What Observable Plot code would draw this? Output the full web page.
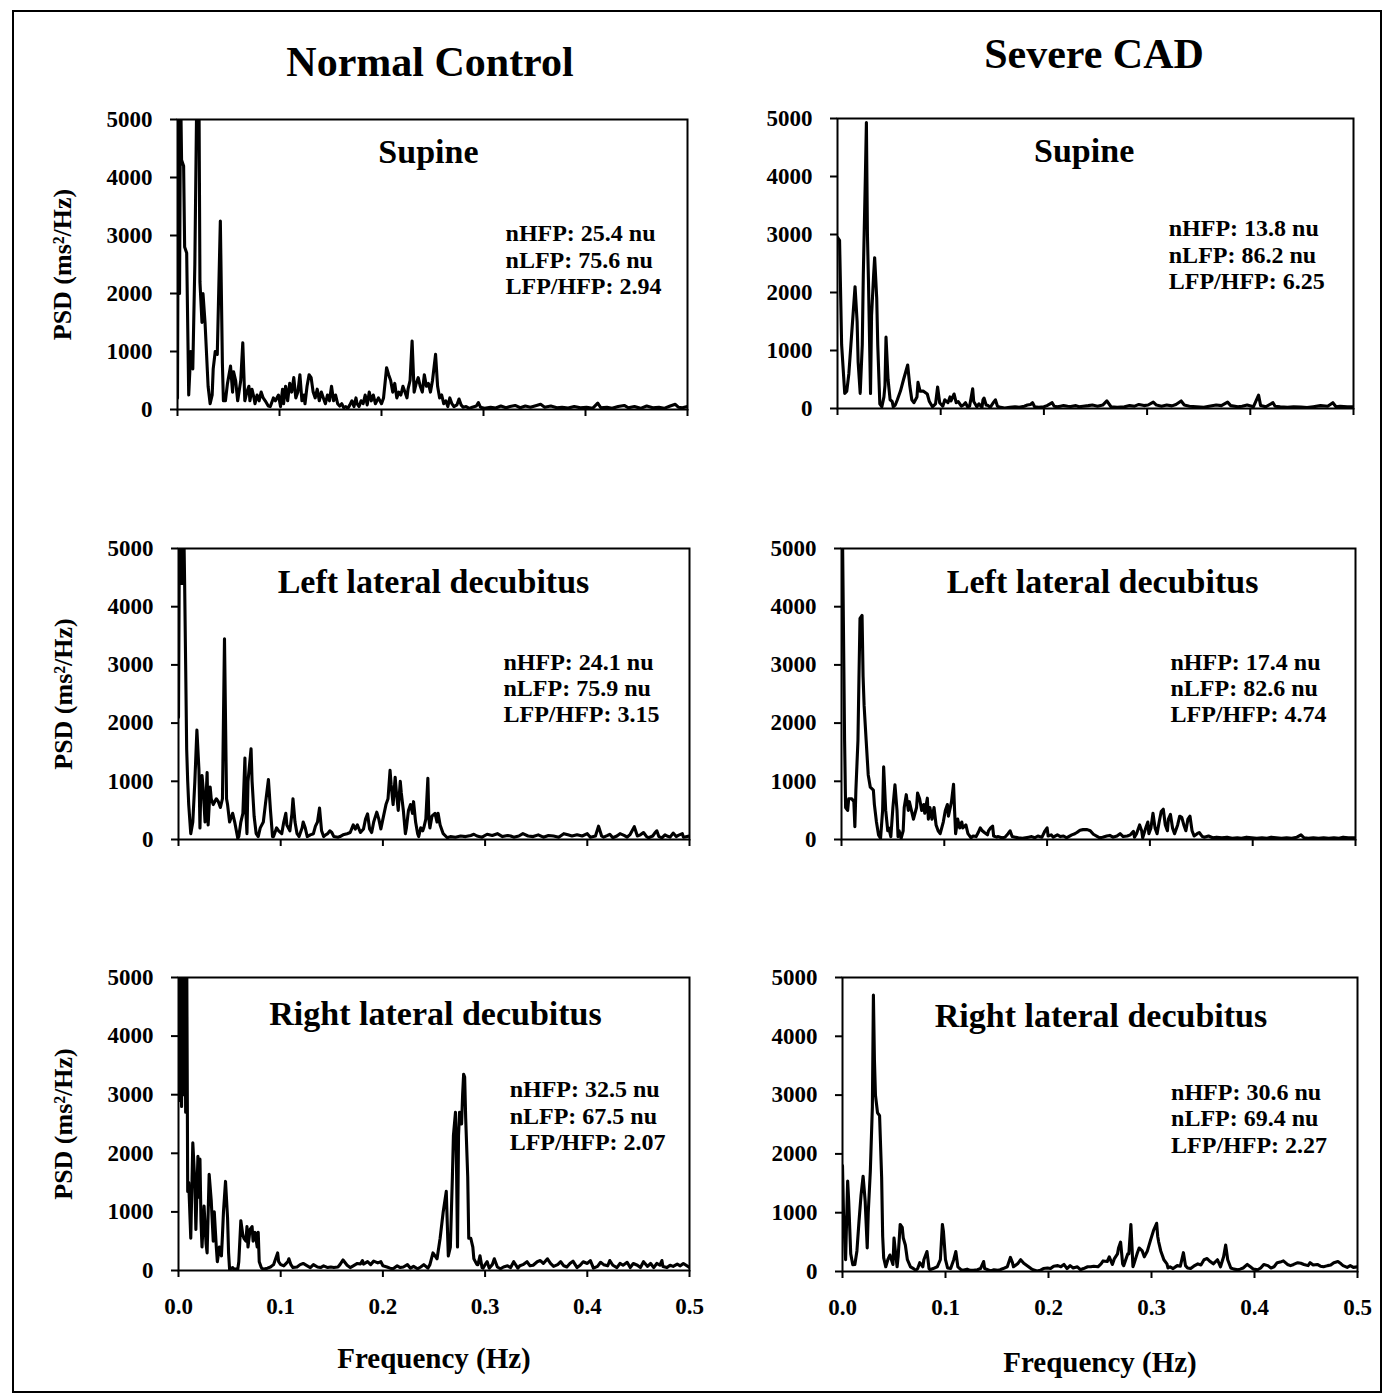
<!DOCTYPE html>
<html><head><meta charset="utf-8">
<script src="https://cdn.jsdelivr.net/npm/d3@7"></script>
<script src="https://cdn.jsdelivr.net/npm/@observablehq/plot@0.6"></script>
<style>
html,body{margin:0;padding:0;background:#fff;}
#fig{position:relative;width:1389px;height:1395px;background:#fff;font-family:"Liberation Serif","Times New Roman",serif;font-weight:bold;color:#000;overflow:hidden;}
#border{position:absolute;left:12px;top:10px;width:1370px;height:1383px;border:2px solid #000;box-sizing:border-box;}
.coltitle{position:absolute;font-size:42px;line-height:42px;transform:translateX(-50%);white-space:nowrap;}
</style></head><body><div id="fig"><div id="border"></div></div>
<script>
// ---- data: [frequency (Hz), PSD (ms^2/Hz)] ----
const normalSupine = [[0,200],[0.001,5600],[0.002,2000],[0.003,5600],[0.004,4300],[0.006,4200],[0.007,2800],[0.009,2700],[0.011,250],[0.013,1000],[0.015,700],[0.017,2500],[0.019,5600],[0.021,5600],[0.022,2200],[0.024,1500],[0.025,2000],[0.027,1500],[0.030,400],[0.032,100],[0.034,250],[0.035,700],[0.037,1000],[0.039,950],[0.042,3250],[0.044,800],[0.045,150],[0.047,150],[0.049,450],[0.052,750],[0.054,300],[0.055,650],[0.057,500],[0.059,150],[0.062,500],[0.064,1150],[0.066,150],[0.068,300],[0.070,400],[0.071,150],[0.073,350],[0.075,200],[0.076,100],[0.078,250],[0.080,150],[0.082,300],[0.084,200],[0.086,150],[0.089,60],[0.091,50],[0.094,200],[0.096,150],[0.099,250],[0.101,50],[0.103,350],[0.104,100],[0.106,400],[0.108,150],[0.110,450],[0.112,300],[0.114,550],[0.116,200],[0.118,300],[0.120,600],[0.122,150],[0.124,250],[0.125,100],[0.127,400],[0.129,600],[0.131,550],[0.133,300],[0.135,200],[0.137,350],[0.139,150],[0.141,300],[0.143,200],[0.145,100],[0.147,250],[0.149,150],[0.151,400],[0.153,150],[0.155,250],[0.157,100],[0.159,60],[0.161,100],[0.163,30],[0.165,50],[0.167,20],[0.169,80],[0.171,150],[0.173,50],[0.175,200],[0.176,100],[0.178,50],[0.180,150],[0.182,100],[0.184,250],[0.186,80],[0.188,300],[0.190,150],[0.192,250],[0.194,100],[0.197,200],[0.200,100],[0.202,200],[0.205,720],[0.207,600],[0.209,500],[0.211,300],[0.213,450],[0.215,200],[0.217,300],[0.219,250],[0.221,400],[0.223,300],[0.225,200],[0.226,350],[0.228,500],[0.230,1180],[0.232,300],[0.234,450],[0.236,550],[0.238,400],[0.240,300],[0.242,600],[0.244,400],[0.246,450],[0.248,300],[0.250,500],[0.253,950],[0.255,400],[0.257,200],[0.259,250],[0.261,100],[0.263,150],[0.265,50],[0.267,200],[0.269,100],[0.271,50],[0.274,80],[0.276,180],[0.278,80],[0.280,40],[0.283,50],[0.286,20],[0.289,40],[0.293,60],[0.295,120],[0.297,40],[0.301,20],[0.307,40],[0.312,25],[0.317,60],[0.322,30],[0.326,50],[0.331,70],[0.336,30],[0.341,60],[0.346,40],[0.352,70],[0.356,90],[0.360,40],[0.366,60],[0.372,30],[0.377,40],[0.383,25],[0.389,50],[0.395,30],[0.401,40],[0.407,20],[0.412,110],[0.415,30],[0.421,40],[0.426,20],[0.432,50],[0.438,70],[0.442,30],[0.448,50],[0.454,20],[0.460,60],[0.466,30],[0.472,40],[0.477,20],[0.483,60],[0.488,90],[0.491,40],[0.495,30],[0.500,50]];

const cadSupine = [[0,2950],[0.002,2900],[0.004,1100],[0.007,260],[0.009,300],[0.011,600],[0.013,1100],[0.017,2100],[0.019,1500],[0.020,800],[0.022,260],[0.024,1100],[0.025,2300],[0.027,4000],[0.028,4930],[0.029,3000],[0.030,2200],[0.032,260],[0.033,1600],[0.035,2300],[0.036,2600],[0.038,1900],[0.039,1100],[0.041,80],[0.043,30],[0.045,200],[0.046,400],[0.047,1230],[0.049,500],[0.051,150],[0.053,120],[0.054,30],[0.056,60],[0.058,150],[0.061,300],[0.064,500],[0.068,750],[0.070,400],[0.072,150],[0.074,100],[0.077,200],[0.078,450],[0.080,300],[0.083,300],[0.087,250],[0.089,120],[0.092,30],[0.095,80],[0.097,370],[0.099,100],[0.102,40],[0.104,150],[0.107,100],[0.109,200],[0.110,130],[0.113,250],[0.115,100],[0.117,120],[0.120,40],[0.122,60],[0.124,100],[0.126,30],[0.128,40],[0.131,340],[0.132,120],[0.135,30],[0.137,80],[0.140,20],[0.141,150],[0.142,180],[0.144,60],[0.146,50],[0.148,20],[0.151,100],[0.153,150],[0.155,40],[0.158,20],[0.162,10],[0.167,20],[0.172,30],[0.176,20],[0.181,40],[0.184,60],[0.187,70],[0.189,100],[0.191,30],[0.195,20],[0.200,30],[0.203,50],[0.206,80],[0.208,100],[0.210,40],[0.213,30],[0.216,40],[0.219,50],[0.223,40],[0.226,35],[0.231,50],[0.234,30],[0.238,40],[0.243,50],[0.247,60],[0.252,40],[0.257,60],[0.261,130],[0.265,30],[0.271,20],[0.278,30],[0.283,50],[0.288,40],[0.292,70],[0.297,50],[0.301,60],[0.306,110],[0.309,60],[0.314,40],[0.319,60],[0.324,45],[0.328,70],[0.333,130],[0.336,60],[0.341,40],[0.348,30],[0.355,20],[0.360,40],[0.367,60],[0.372,50],[0.378,110],[0.381,50],[0.388,30],[0.392,40],[0.397,60],[0.403,30],[0.408,230],[0.410,50],[0.415,30],[0.422,100],[0.424,40],[0.429,30],[0.436,20],[0.442,30],[0.449,25],[0.455,15],[0.461,30],[0.468,50],[0.475,40],[0.480,100],[0.483,30],[0.487,40],[0.494,30],[0.500,30]];

const normalLeft = [[0,2100],[0.001,5600],[0.002,4400],[0.003,5600],[0.004,4400],[0.005,5600],[0.006,4400],[0.007,3000],[0.008,1550],[0.009,1000],[0.010,600],[0.012,100],[0.014,300],[0.016,1000],[0.018,1880],[0.020,1200],[0.021,200],[0.022,1000],[0.023,1100],[0.024,900],[0.026,300],[0.028,1150],[0.029,250],[0.031,900],[0.032,700],[0.034,600],[0.037,700],[0.039,650],[0.041,550],[0.043,700],[0.045,3450],[0.047,700],[0.048,600],[0.050,300],[0.053,450],[0.055,300],[0.058,20],[0.059,50],[0.061,300],[0.063,450],[0.065,1400],[0.066,450],[0.067,100],[0.068,1000],[0.071,1560],[0.072,1000],[0.074,400],[0.076,100],[0.078,50],[0.080,200],[0.083,300],[0.085,600],[0.088,1030],[0.090,500],[0.092,50],[0.093,50],[0.096,200],[0.098,150],[0.101,100],[0.103,300],[0.105,450],[0.106,250],[0.109,150],[0.111,450],[0.112,700],[0.114,300],[0.116,100],[0.118,50],[0.121,200],[0.122,300],[0.124,200],[0.126,50],[0.129,80],[0.132,100],[0.134,230],[0.136,300],[0.138,540],[0.140,150],[0.142,50],[0.144,80],[0.146,100],[0.148,150],[0.150,120],[0.152,50],[0.156,40],[0.158,50],[0.161,80],[0.165,100],[0.168,120],[0.171,250],[0.173,180],[0.175,250],[0.178,120],[0.181,180],[0.183,350],[0.185,440],[0.187,180],[0.189,120],[0.191,300],[0.194,470],[0.196,350],[0.198,180],[0.200,350],[0.203,600],[0.205,700],[0.207,1190],[0.208,950],[0.210,600],[0.212,1070],[0.213,850],[0.215,500],[0.217,1000],[0.218,800],[0.220,500],[0.222,100],[0.223,200],[0.225,500],[0.227,600],[0.229,450],[0.230,650],[0.232,300],[0.234,100],[0.235,50],[0.237,200],[0.239,150],[0.240,200],[0.242,350],[0.244,1050],[0.245,350],[0.246,200],[0.248,400],[0.251,450],[0.253,300],[0.254,450],[0.256,250],[0.259,100],[0.263,30],[0.266,50],[0.271,40],[0.276,60],[0.281,50],[0.286,70],[0.289,90],[0.292,60],[0.297,40],[0.302,90],[0.307,70],[0.312,100],[0.317,50],[0.322,70],[0.325,60],[0.328,40],[0.333,60],[0.337,100],[0.342,60],[0.347,50],[0.352,80],[0.357,40],[0.362,70],[0.367,60],[0.372,40],[0.377,100],[0.381,80],[0.385,60],[0.390,80],[0.395,60],[0.400,100],[0.403,40],[0.408,60],[0.411,230],[0.414,60],[0.416,40],[0.420,70],[0.422,90],[0.425,30],[0.429,60],[0.432,100],[0.436,70],[0.439,40],[0.442,90],[0.446,220],[0.449,60],[0.452,80],[0.455,120],[0.458,50],[0.460,30],[0.464,60],[0.466,110],[0.468,150],[0.470,50],[0.473,30],[0.476,80],[0.478,60],[0.481,40],[0.484,110],[0.487,50],[0.489,70],[0.493,100],[0.494,40],[0.500,60]];

const cadLeft = [[0,5600],[0.001,5200],[0.003,1700],[0.004,550],[0.006,500],[0.007,700],[0.010,700],[0.012,650],[0.013,220],[0.014,850],[0.016,1700],[0.017,2800],[0.018,3800],[0.020,3850],[0.021,2800],[0.022,2300],[0.024,1700],[0.026,1110],[0.028,900],[0.031,850],[0.032,600],[0.034,300],[0.036,80],[0.038,20],[0.040,500],[0.041,1250],[0.043,500],[0.045,150],[0.046,200],[0.048,50],[0.050,550],[0.052,940],[0.054,500],[0.055,50],[0.056,150],[0.058,20],[0.060,150],[0.061,550],[0.063,770],[0.065,500],[0.066,650],[0.068,500],[0.070,350],[0.073,550],[0.074,800],[0.076,700],[0.078,500],[0.080,600],[0.081,450],[0.0835,710],[0.0845,350],[0.086,550],[0.088,350],[0.090,550],[0.092,250],[0.094,150],[0.096,100],[0.099,300],[0.101,500],[0.103,600],[0.104,400],[0.107,650],[0.109,950],[0.110,500],[0.111,100],[0.113,350],[0.115,200],[0.117,300],[0.118,200],[0.121,250],[0.123,100],[0.126,30],[0.128,60],[0.131,50],[0.133,120],[0.135,200],[0.137,150],[0.139,120],[0.142,80],[0.143,150],[0.145,200],[0.147,230],[0.148,60],[0.151,40],[0.152,50],[0.156,30],[0.159,40],[0.162,100],[0.164,150],[0.166,50],[0.169,40],[0.172,30],[0.176,20],[0.179,30],[0.182,40],[0.185,50],[0.188,30],[0.191,60],[0.195,40],[0.198,150],[0.200,200],[0.201,60],[0.204,80],[0.206,40],[0.210,80],[0.213,50],[0.216,60],[0.219,30],[0.221,50],[0.224,80],[0.227,100],[0.229,120],[0.232,160],[0.235,170],[0.239,170],[0.242,150],[0.245,90],[0.249,50],[0.251,30],[0.254,40],[0.258,60],[0.261,70],[0.264,40],[0.268,60],[0.271,100],[0.274,50],[0.278,60],[0.281,80],[0.284,140],[0.285,40],[0.287,100],[0.290,250],[0.292,150],[0.293,30],[0.296,200],[0.298,300],[0.299,100],[0.301,200],[0.303,450],[0.305,200],[0.307,100],[0.309,300],[0.311,480],[0.313,520],[0.315,250],[0.317,150],[0.318,350],[0.320,430],[0.322,200],[0.324,100],[0.327,250],[0.329,400],[0.331,380],[0.333,250],[0.335,150],[0.337,350],[0.339,400],[0.341,150],[0.343,60],[0.346,100],[0.348,120],[0.351,50],[0.353,40],[0.357,60],[0.361,30],[0.365,40],[0.370,30],[0.375,40],[0.380,20],[0.385,30],[0.389,20],[0.394,40],[0.399,30],[0.404,20],[0.409,30],[0.414,20],[0.418,40],[0.423,30],[0.428,20],[0.433,30],[0.438,20],[0.443,40],[0.447,80],[0.450,30],[0.454,20],[0.459,30],[0.464,20],[0.469,30],[0.474,20],[0.479,30],[0.484,20],[0.488,40],[0.493,30],[0.500,30]];

const normalRight = [[0,5600],[0.001,2900],[0.002,5600],[0.003,2800],[0.004,5600],[0.005,3000],[0.006,5600],[0.007,2700],[0.008,5600],[0.009,1350],[0.010,1500],[0.012,550],[0.014,2180],[0.016,1500],[0.017,700],[0.019,1950],[0.020,1250],[0.021,1900],[0.022,850],[0.023,400],[0.025,1100],[0.027,450],[0.028,300],[0.030,1640],[0.032,1200],[0.034,500],[0.035,1000],[0.037,400],[0.038,150],[0.040,400],[0.042,250],[0.043,600],[0.044,1000],[0.046,1520],[0.048,900],[0.049,300],[0.050,20],[0.053,50],[0.054,30],[0.058,20],[0.059,150],[0.061,850],[0.063,600],[0.064,550],[0.066,500],[0.067,750],[0.068,400],[0.070,700],[0.072,750],[0.073,500],[0.075,650],[0.077,400],[0.078,650],[0.079,150],[0.081,50],[0.083,20],[0.087,40],[0.090,60],[0.093,100],[0.097,300],[0.098,150],[0.100,100],[0.103,80],[0.107,150],[0.108,200],[0.110,100],[0.112,50],[0.116,60],[0.119,100],[0.122,120],[0.126,80],[0.129,50],[0.132,100],[0.136,60],[0.139,50],[0.142,80],[0.146,50],[0.149,60],[0.152,50],[0.156,60],[0.158,100],[0.161,180],[0.165,90],[0.168,50],[0.171,80],[0.175,120],[0.178,110],[0.180,170],[0.181,110],[0.185,150],[0.188,100],[0.191,160],[0.195,130],[0.198,150],[0.200,80],[0.204,60],[0.207,40],[0.210,30],[0.214,80],[0.217,50],[0.220,60],[0.224,100],[0.227,40],[0.230,70],[0.234,30],[0.237,60],[0.240,100],[0.244,40],[0.246,100],[0.249,300],[0.253,200],[0.256,550],[0.259,1000],[0.262,1350],[0.263,800],[0.264,250],[0.266,400],[0.268,1600],[0.269,2300],[0.271,2700],[0.272,1800],[0.273,400],[0.274,2300],[0.275,2700],[0.277,2500],[0.278,3000],[0.279,3350],[0.280,3300],[0.281,2600],[0.283,1600],[0.284,550],[0.286,550],[0.288,400],[0.289,200],[0.292,100],[0.293,100],[0.295,250],[0.297,50],[0.298,40],[0.300,100],[0.302,150],[0.304,40],[0.307,100],[0.309,200],[0.312,60],[0.315,30],[0.318,60],[0.322,80],[0.325,50],[0.328,150],[0.332,40],[0.334,80],[0.337,100],[0.341,150],[0.344,80],[0.347,90],[0.351,150],[0.354,170],[0.357,120],[0.361,200],[0.364,120],[0.367,70],[0.371,100],[0.374,150],[0.377,80],[0.380,60],[0.383,120],[0.386,160],[0.390,50],[0.393,90],[0.396,150],[0.400,120],[0.403,170],[0.406,40],[0.410,70],[0.413,140],[0.416,100],[0.420,80],[0.422,170],[0.425,90],[0.429,50],[0.432,120],[0.435,90],[0.439,140],[0.442,50],[0.445,120],[0.449,90],[0.452,50],[0.455,150],[0.459,70],[0.462,120],[0.465,50],[0.468,120],[0.471,90],[0.473,170],[0.474,70],[0.478,50],[0.481,90],[0.484,70],[0.488,110],[0.491,80],[0.494,120],[0.500,50]];

const cadRight = [[0,1800],[0.001,970],[0.003,200],[0.005,1540],[0.006,1200],[0.008,300],[0.010,115],[0.012,120],[0.014,350],[0.016,850],[0.018,1300],[0.020,1620],[0.022,1200],[0.024,400],[0.025,1000],[0.027,1700],[0.029,2800],[0.030,4700],[0.031,3600],[0.032,3000],[0.034,2700],[0.036,2650],[0.038,1600],[0.039,600],[0.040,230],[0.042,80],[0.044,200],[0.046,280],[0.049,120],[0.050,570],[0.051,400],[0.053,80],[0.054,250],[0.056,800],[0.058,750],[0.059,570],[0.061,450],[0.063,200],[0.066,80],[0.069,50],[0.071,20],[0.073,50],[0.075,150],[0.078,80],[0.079,200],[0.082,340],[0.083,200],[0.084,50],[0.085,30],[0.088,50],[0.092,80],[0.095,200],[0.097,800],[0.098,680],[0.100,200],[0.102,60],[0.105,50],[0.108,200],[0.110,340],[0.112,80],[0.115,30],[0.117,20],[0.121,40],[0.124,20],[0.127,20],[0.131,30],[0.134,50],[0.137,170],[0.138,50],[0.141,30],[0.144,10],[0.147,30],[0.151,20],[0.153,30],[0.156,50],[0.160,80],[0.163,240],[0.165,150],[0.166,80],[0.170,130],[0.173,200],[0.176,140],[0.180,90],[0.183,50],[0.185,30],[0.189,10],[0.192,20],[0.195,50],[0.199,60],[0.202,50],[0.205,90],[0.209,100],[0.212,80],[0.215,120],[0.218,50],[0.221,100],[0.224,60],[0.228,80],[0.231,30],[0.234,50],[0.238,80],[0.241,80],[0.244,90],[0.248,80],[0.251,130],[0.253,180],[0.257,170],[0.259,250],[0.262,120],[0.264,220],[0.267,300],[0.268,400],[0.270,500],[0.272,130],[0.273,100],[0.277,300],[0.278,300],[0.280,800],[0.282,80],[0.283,130],[0.286,300],[0.288,400],[0.291,350],[0.293,250],[0.296,350],[0.299,530],[0.302,700],[0.305,820],[0.306,600],[0.307,500],[0.309,350],[0.311,250],[0.312,200],[0.315,130],[0.316,60],[0.318,80],[0.321,50],[0.325,100],[0.328,90],[0.331,320],[0.333,100],[0.335,60],[0.338,50],[0.341,90],[0.345,130],[0.348,110],[0.351,200],[0.354,220],[0.357,170],[0.360,130],[0.364,200],[0.367,80],[0.370,250],[0.372,450],[0.374,200],[0.377,60],[0.380,40],[0.384,30],[0.386,40],[0.389,60],[0.393,120],[0.396,80],[0.399,40],[0.403,30],[0.406,60],[0.409,120],[0.413,100],[0.416,60],[0.419,80],[0.422,150],[0.425,160],[0.428,180],[0.432,120],[0.435,100],[0.438,120],[0.442,150],[0.445,140],[0.448,120],[0.452,100],[0.454,150],[0.457,110],[0.461,120],[0.464,90],[0.467,80],[0.471,100],[0.474,110],[0.477,150],[0.481,170],[0.484,130],[0.486,100],[0.490,70],[0.493,100],[0.496,70],[0.500,80]];

const columnTitles = ["Normal Control", "Severe CAD"];
const positionTitles = ["Supine", "Left lateral decubitus", "Right lateral decubitus"];
const statsNormalSupine = ["nHFP: 25.4 nu", "nLFP: 75.6 nu", "LFP/HFP: 2.94"];
const statsCadSupine = ["nHFP: 13.8 nu", "nLFP: 86.2 nu", "LFP/HFP: 6.25"];
const statsNormalLeft = ["nHFP: 24.1 nu", "nLFP: 75.9 nu", "LFP/HFP: 3.15"];
const statsCadLeft = ["nHFP: 17.4 nu", "nLFP: 82.6 nu", "LFP/HFP: 4.74"];
const statsNormalRight = ["nHFP: 32.5 nu", "nLFP: 67.5 nu", "LFP/HFP: 2.07"];
const statsCadRight = ["nHFP: 30.6 nu", "nLFP: 69.4 nu", "LFP/HFP: 2.27"];
const xTicks = [0, 0.1, 0.2, 0.3, 0.4, 0.5];
const yTicks = [0, 1000, 2000, 3000, 4000, 5000];
const yLabel = "PSD (ms\u00B2/Hz)";
const xLabel = "Frequency (Hz)";

// ---- layout ----
const FONT = '"Liberation Serif", "Times New Roman", serif';
const panels = [
  {row:0, col:0, data:normalSupine, stats:statsNormalSupine, box:[177,119,687,409], tx:0.246, ty:4430, sx:0.3216, sy:2590},
  {row:0, col:1, data:cadSupine,    stats:statsCadSupine,    box:[837,118,1353,408], tx:0.239, ty:4430, sx:0.321, sy:2660},
  {row:1, col:0, data:normalLeft,   stats:statsNormalLeft,   box:[178,548,689,839], tx:0.2495, ty:4430, sx:0.318, sy:2610},
  {row:1, col:1, data:cadLeft,      stats:statsCadLeft,      box:[841,548,1355,839], tx:0.254, ty:4430, sx:0.320, sy:2610},
  {row:2, col:0, data:normalRight,  stats:statsNormalRight,  box:[178,977,689,1270], tx:0.2515, ty:4380, sx:0.324, sy:2650},
  {row:2, col:1, data:cadRight,     stats:statsCadRight,     box:[842,977,1357,1271], tx:0.251, ty:4350, sx:0.319, sy:2610}
];

const fig = document.getElementById("fig");

[[430, 41], [1094, 33]].forEach(([cx, top], i) => {
  const d = document.createElement("div");
  d.className = "coltitle";
  d.textContent = columnTitles[i];
  d.style.left = cx + "px";
  d.style.top = top + "px";
  fig.appendChild(d);
});

for (const p of panels) {
  const [l, t, r, b] = p.box;
  const mL = p.col === 0 ? 150 : 110, mR = 12, mT = 12, mB = p.row === 2 ? 130 : 26;
  const bottom = p.row === 2;
  const marks = [
    Plot.line(p.data, {x: d => d[0], y: d => d[1], stroke: "#000", strokeWidth: 3.1, clip: true}),
    Plot.frame({stroke: "#000", strokeWidth: 2}),
    Plot.axisY({ticks: yTicks, tickSize: 7, tickPadding: 18, tickFormat: d3.format("d"), fontSize: 23, fontWeight: "bold", strokeWidth: 2, label: null}),
    Plot.axisX({ticks: xTicks, tickSize: 7, tickPadding: 20, tickFormat: bottom ? d3.format(".1f") : () => "", fontSize: 23, fontWeight: "bold", strokeWidth: 2, label: null}),
    Plot.text([positionTitles[p.row]], {x: p.tx, y: p.ty, text: d => d, fontSize: 34, fontWeight: "bold", textAnchor: "middle"}),
    Plot.text([p.stats.join("\n")], {x: p.sx, y: p.sy, text: d => d, fontSize: 24, fontWeight: "bold", textAnchor: "start", lineHeight: 1.09})
  ];
  if (p.col === 0) marks.push(Plot.text([yLabel], {frameAnchor: "left", dx: -115, rotate: -90, text: d => d, fontSize: 26, fontWeight: "bold", textAnchor: "middle", lineAnchor: "middle"}));
  if (bottom) marks.push(Plot.text([xLabel], {frameAnchor: "bottom", dy: p.col === 0 ? 88 : 91, text: d => d, fontSize: 29, fontWeight: "bold", textAnchor: "middle", lineAnchor: "middle"}));
  const svg = Plot.plot({
    width: r - l + mL + mR, height: b - t + mT + mB,
    marginLeft: mL, marginRight: mR, marginTop: mT, marginBottom: mB,
    x: {domain: [0, 0.5]}, y: {domain: [0, 5000]},
    style: {fontFamily: FONT, fontWeight: "bold", background: "transparent", overflow: "visible", color: "#000"},
    marks
  });
  svg.style.position = "absolute";
  svg.style.left = (l - mL) + "px";
  svg.style.top = (t - mT) + "px";
  svg.style.maxWidth = "none";
  fig.appendChild(svg);
}
</script></body></html>
